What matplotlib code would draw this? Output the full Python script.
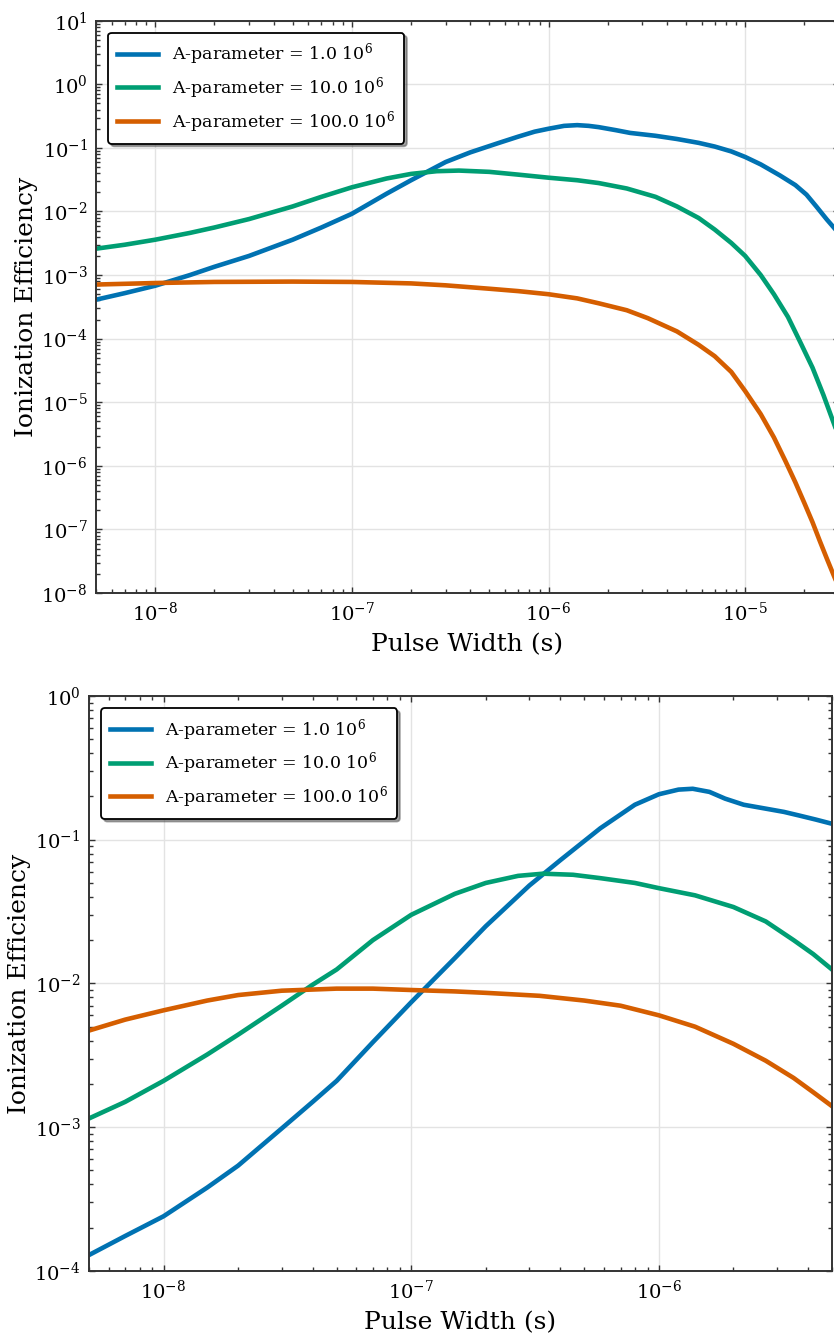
import matplotlib
matplotlib.use("Agg")
import matplotlib.pyplot as plt
from matplotlib import ticker
import numpy as np

plt.rcParams["font.family"] = ["DejaVu Serif"]
plt.rcParams["mathtext.fontset"] = "dejavuserif"
plt.rcParams["mathtext.default"] = "regular"

COLORS = ["#0072B2", "#009E73", "#D55E00"]
LABELS = [
    "A-parameter = 1.0 10$^{6}$",
    "A-parameter = 10.0 10$^{6}$",
    "A-parameter = 100.0 10$^{6}$",
]

# top panel: pulse widths up to 3e-5 s
top_x_blue = [5e-9, 7e-9, 1e-8, 1.5e-8, 2e-8, 3e-8, 5e-8, 7e-8, 1e-7, 1.5e-7, 2e-7, 3e-7, 4e-7,
              5.6e-7, 7e-7, 8.5e-7, 1e-6, 1.2e-6, 1.4e-6, 1.6e-6, 1.8e-6, 2.2e-6, 2.6e-6, 3.5e-6,
              4.5e-6, 5.8e-6, 7e-6, 8.5e-6, 1e-5, 1.2e-5, 1.5e-5, 1.8e-5, 2.05e-5, 2.3e-5, 2.6e-5, 3e-5]
top_y_blue = [4.1e-4, 5.2e-4, 6.8e-4, 1.0e-3, 1.35e-3, 2.0e-3, 3.6e-3, 5.6e-3, 9.2e-3, 1.9e-2, 3.1e-2,
              6.0e-2, 8.5e-2, 0.12, 0.15, 0.18, 0.20, 0.222, 0.228, 0.222, 0.212, 0.19, 0.172, 0.155,
              0.138, 0.12, 0.105, 0.088, 0.072, 0.055, 0.037, 0.026, 0.0184, 0.012, 0.0075, 0.0045]

top_x_green = [5e-9, 7e-9, 1e-8, 1.5e-8, 2e-8, 3e-8, 5e-8, 7e-8, 1e-7, 1.5e-7, 2e-7, 2.7e-7, 3.5e-7,
               5e-7, 7e-7, 1e-6, 1.4e-6, 1.8e-6, 2.5e-6, 3.5e-6, 4.5e-6, 5.8e-6, 7e-6, 8.5e-6, 1e-5,
               1.2e-5, 1.4e-5, 1.65e-5, 1.9e-5, 2.2e-5, 2.5e-5, 2.8e-5, 3e-5]
top_y_green = [2.6e-3, 3.0e-3, 3.6e-3, 4.6e-3, 5.6e-3, 7.6e-3, 1.2e-2, 1.7e-2, 2.4e-2, 3.3e-2, 3.9e-2,
               4.3e-2, 4.4e-2, 4.2e-2, 3.8e-2, 3.4e-2, 3.1e-2, 2.8e-2, 2.3e-2, 1.7e-2, 1.2e-2, 7.9e-3,
               5.2e-3, 3.2e-3, 2.0e-3, 1.0e-3, 5.0e-4, 2.2e-4, 9e-5, 3.5e-5, 1.3e-5, 5e-6, 2.8e-6]

top_x_orange = [5e-9, 1e-8, 2e-8, 5e-8, 1e-7, 2e-7, 3e-7, 5e-7, 7e-7, 1e-6, 1.4e-6, 1.8e-6, 2.5e-6,
                3.2e-6, 4.5e-6, 5.8e-6, 7e-6, 8.5e-6, 1e-5, 1.2e-5, 1.4e-5, 1.6e-5, 1.8e-5, 2e-5,
                2.2e-5, 2.4e-5, 2.6e-5, 2.8e-5, 3e-5]
top_y_orange = [7.1e-4, 7.5e-4, 7.8e-4, 7.9e-4, 7.8e-4, 7.4e-4, 6.9e-4, 6.1e-4, 5.6e-4, 5.0e-4, 4.3e-4,
                3.6e-4, 2.8e-4, 2.1e-4, 1.3e-4, 8e-5, 5.3e-5, 3e-5, 1.5e-5, 6.5e-6, 2.8e-6, 1.2e-6,
                5.5e-7, 2.6e-7, 1.3e-7, 6.5e-8, 3.5e-8, 2e-8, 1.2e-8]

# bottom panel: pulse widths up to 5e-6 s
bot_x_blue = [5e-9, 7e-9, 1e-8, 1.5e-8, 2e-8, 3e-8, 4e-8, 5e-8, 7e-8, 1e-7, 1.5e-7, 2e-7, 3e-7, 4e-7,
              5.8e-7, 8e-7, 1e-6, 1.2e-6, 1.37e-6, 1.6e-6, 1.85e-6, 2.2e-6, 2.72e-6, 3.2e-6, 3.7e-6,
              4.3e-6, 5e-6]
bot_y_blue = [1.29e-4, 1.75e-4, 2.4e-4, 3.8e-4, 5.4e-4, 9.8e-4, 1.5e-3, 2.1e-3, 3.9e-3, 7.4e-3, 1.5e-2,
              2.5e-2, 4.8e-2, 7.2e-2, 0.12, 0.175, 0.207, 0.223, 0.226, 0.215, 0.193, 0.175, 0.164,
              0.156, 0.147, 0.138, 0.129]

bot_x_green = [5e-9, 7e-9, 1e-8, 1.5e-8, 2e-8, 3e-8, 4e-8, 5e-8, 7e-8, 1e-7, 1.5e-7, 2e-7, 2.7e-7,
               3.4e-7, 4.5e-7, 5.8e-7, 8e-7, 1e-6, 1.4e-6, 2e-6, 2.7e-6, 3.5e-6, 4.2e-6, 5e-6]
bot_y_green = [1.15e-3, 1.5e-3, 2.1e-3, 3.2e-3, 4.4e-3, 7.0e-3, 9.8e-3, 1.25e-2, 2.0e-2, 3.0e-2, 4.2e-2,
               5.0e-2, 5.6e-2, 5.8e-2, 5.7e-2, 5.4e-2, 5.0e-2, 4.6e-2, 4.1e-2, 3.4e-2, 2.7e-2, 2.0e-2,
               1.6e-2, 1.25e-2]

bot_x_orange = [5e-9, 7e-9, 1e-8, 1.5e-8, 2e-8, 3e-8, 5e-8, 7e-8, 1e-7, 1.5e-7, 2e-7, 3.3e-7, 5e-7,
                7e-7, 1e-6, 1.4e-6, 2e-6, 2.7e-6, 3.5e-6, 4.2e-6, 5e-6]
bot_y_orange = [4.7e-3, 5.6e-3, 6.5e-3, 7.6e-3, 8.3e-3, 8.9e-3, 9.2e-3, 9.2e-3, 9.0e-3, 8.8e-3, 8.6e-3,
                8.2e-3, 7.6e-3, 7.0e-3, 6.0e-3, 5.0e-3, 3.8e-3, 2.9e-3, 2.2e-3, 1.75e-3, 1.4e-3]

TOP = [(top_x_blue, top_y_blue), (top_x_green, top_y_green), (top_x_orange, top_y_orange)]
BOTTOM = [(bot_x_blue, bot_y_blue), (bot_x_green, bot_y_green), (bot_x_orange, bot_y_orange)]


def style_axes(ax, xlim, ylim):
    ax.set_xscale("log")
    ax.set_yscale("log")
    ax.set_xlim(*xlim)
    ax.set_ylim(*ylim)
    for axis in (ax.xaxis, ax.yaxis):
        axis.set_major_locator(ticker.LogLocator(base=10, numticks=100))
        axis.set_minor_locator(ticker.LogLocator(base=10, subs=np.arange(2, 10), numticks=100))
        axis.set_minor_formatter(ticker.NullFormatter())
    ax.tick_params(which="both", direction="in", top=True, right=True, labelsize=14, width=1,
                   color="#333333")
    ax.tick_params(which="major", length=4.5, pad=6)
    ax.tick_params(which="minor", length=3)
    for sp in ax.spines.values():
        sp.set_linewidth(1.4)
        sp.set_color("#333333")
    ax.grid(True, which="major", color="#e3e3e3", linewidth=1)
    ax.set_axisbelow(True)
    ax.set_xlabel("Pulse Width (s)", fontsize=18, labelpad=6)
    ax.set_ylabel("Ionization Efficiency", fontsize=18, labelpad=2)
    leg = ax.legend(loc="upper left", fontsize=12.5, frameon=True, fancybox=True, shadow=True,
                    framealpha=1, handlelength=2.4, borderpad=0.5, labelspacing=0.45,
                    borderaxespad=0.7, handletextpad=0.8)
    leg.get_frame().set_edgecolor("black")
    leg.get_frame().set_linewidth(1.3)


fig = plt.figure(figsize=(8.34, 13.36), dpi=100)
ax1 = fig.add_axes([0.1151, 0.5561, 0.8909, 0.4284])
ax2 = fig.add_axes([0.1067, 0.0487, 0.8909, 0.4304])

for (x, y), c, lab in zip(TOP, COLORS, LABELS):
    ax1.plot(x, y, color=c, linewidth=3.3, label=lab)
for (x, y), c, lab in zip(BOTTOM, COLORS, LABELS):
    ax2.plot(x, y, color=c, linewidth=3.3, label=lab)

style_axes(ax1, (5e-9, 3e-5), (1e-8, 1e1))
style_axes(ax2, (5e-9, 5e-6), (1e-4, 1e0))

fig.savefig("out.png", dpi=100)
